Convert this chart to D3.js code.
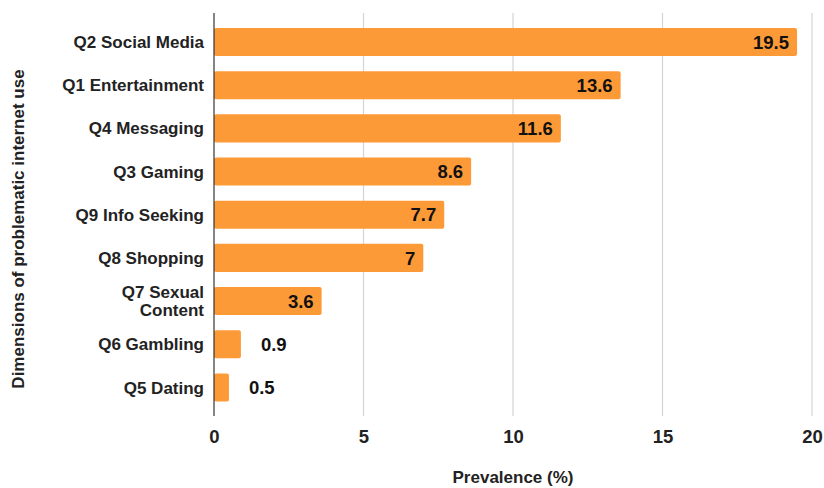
<!DOCTYPE html>
<html><head><meta charset="utf-8">
<script src="https://cdn.jsdelivr.net/npm/d3@7"></script>
<style>body{margin:0;background:#fff}svg{display:block}text{font-family:"Liberation Sans",Arial,sans-serif;font-weight:bold}</style>
</head><body>
<script>
const categories = ["Q2 Social Media","Q1 Entertainment","Q4 Messaging","Q3 Gaming","Q9 Info Seeking","Q8 Shopping","Q7 Sexual Content","Q6 Gambling","Q5 Dating"];
const values = [19.5,13.6,11.6,8.6,7.7,7,3.6,0.9,0.5];
const xTicks = [0,5,10,15,20];
const xTitle = "Prevalence (%)";
const yTitle = "Dimensions of problematic internet use";

const W=824,H=488;
const svg=d3.select("body").append("svg").attr("width",W).attr("height",H);
const x=d3.scaleLinear().domain([0,20]).range([214,812]);
const y=d3.scaleBand().domain(categories).range([20.4,409]).paddingInner(0.35).paddingOuter(0.175);
const plotTop=13, plotBottom=416;

// gridlines
svg.append("g").selectAll("line").data(xTicks.filter(d=>d>0)).join("line")
 .attr("x1",d=>x(d)).attr("x2",d=>x(d)).attr("y1",plotTop).attr("y2",plotBottom)
 .attr("stroke","#d4d4d4").attr("stroke-width",1.2);

// bars
svg.append("g").selectAll("rect").data(values).join("rect")
 .attr("x",x(0)).attr("y",(d,i)=>y(categories[i]))
 .attr("width",d=>x(d)-x(0)).attr("height",y.bandwidth())
 .attr("rx",2).attr("fill","#fd9a38");

// zero axis line
svg.append("line").attr("x1",x(0)).attr("x2",x(0)).attr("y1",plotTop).attr("y2",plotBottom)
 .attr("stroke","#333").attr("stroke-width",1.2);

// value labels
svg.append("g").selectAll("text").data(values).join("text")
 .attr("x",d=> d>=3 ? x(d)-8 : x(d)+20)
 .attr("y",(d,i)=>y(categories[i])+y.bandwidth()/2)
 .attr("dy","0.36em").attr("text-anchor",d=> d>=3 ? "end":"start")
 .attr("font-size",18.5).attr("fill","#111").text(d=>d);

// category labels
const cl=svg.append("g").selectAll("text").data(categories).join("text")
 .attr("x",204).attr("y",d=>y(d)+y.bandwidth()/2)
 .attr("text-anchor","end").attr("font-size",17).attr("fill","#222");
cl.each(function(d){
  const t=d3.select(this);
  if(d==="Q7 Sexual Content"){
    t.append("tspan").attr("x",204).attr("dy","-0.2em").text("Q7 Sexual");
    t.append("tspan").attr("x",204).attr("dy","1.08em").text("Content");
  } else t.append("tspan").attr("dy","0.36em").text(d);
});

// x axis tick labels
const xa=svg.append("g").attr("transform",`translate(0,${plotBottom})`)
 .call(d3.axisBottom(x).tickValues(xTicks).tickSize(0).tickPadding(14));
xa.select(".domain").remove();
xa.selectAll("text").attr("font-size",18.5).attr("fill","#222")
 .style("font-family",'"Liberation Sans",Arial,sans-serif').style("font-weight","bold");

// titles
svg.append("text").attr("x",x(10)).attr("y",483).attr("text-anchor","middle")
 .attr("font-size",17).attr("fill","#222").text(xTitle);
svg.append("text").attr("transform","translate(24,229) rotate(-90)").attr("text-anchor","middle")
 .attr("font-size",17).attr("fill","#222").text(yTitle);
</script>
</body></html>
